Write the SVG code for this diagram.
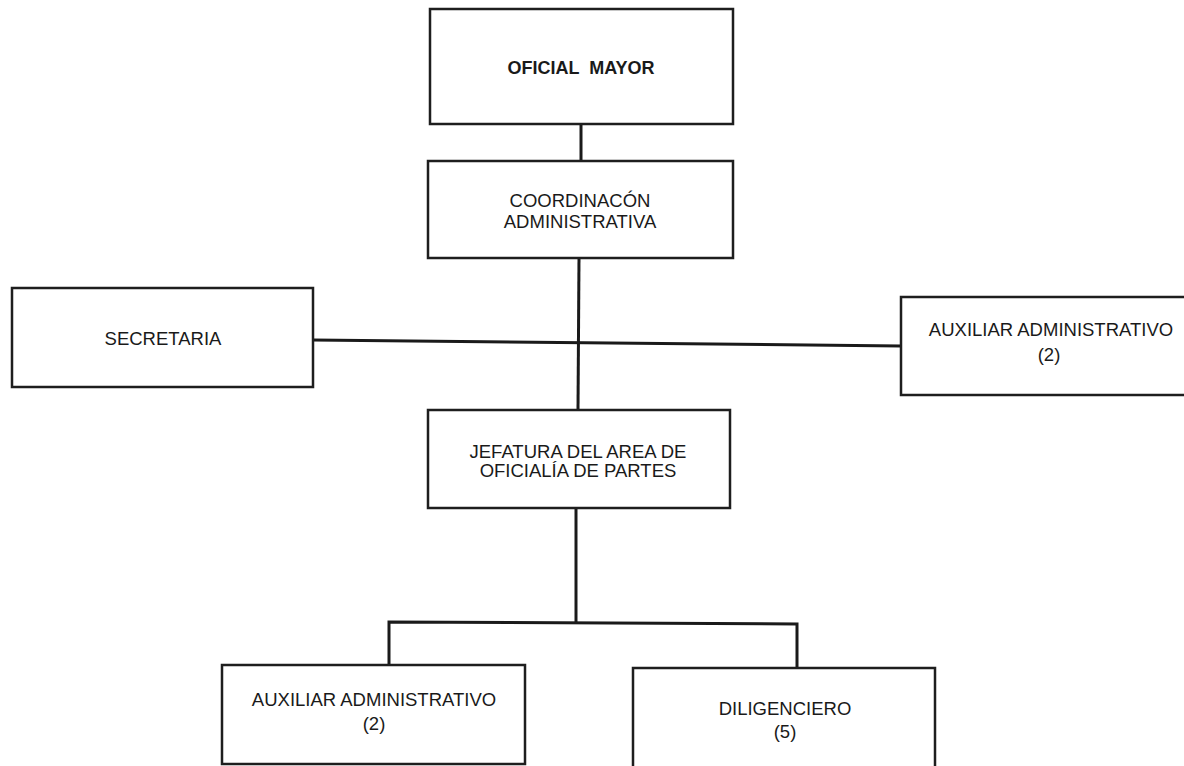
<svg xmlns="http://www.w3.org/2000/svg" width="1184" height="766" viewBox="0 0 1184 766">
<style>
.box{fill:#fff;stroke:#1e1e1e;stroke-width:2.5}
.t{font-family:"Liberation Sans",Arial,sans-serif;font-size:18.5px;fill:#1a1a1a;text-anchor:middle}
.b{font-weight:bold;white-space:pre;font-size:18px}
.c{fill:none;stroke:#1a1a1a;stroke-width:3}
</style>
<rect width="1184" height="766" fill="#fff"/>
<g id="connectors">
<line class="c" x1="581" y1="124" x2="581" y2="161"/>
<line class="c" x1="579" y1="258" x2="578" y2="409"/>
<line class="c" x1="313" y1="340" x2="901" y2="346"/>
<line class="c" x1="576" y1="508" x2="576" y2="623"/>
<polyline class="c" points="389,665 389,622 797,624 797,668"/>
</g>
<g id="oficial-mayor">
<rect class="box" x="430" y="9" width="303" height="115"/>
<text class="t b" x="581" y="74" xml:space="preserve">OFICIAL  MAYOR</text>
</g>
<g id="coordinacion">
<rect class="box" x="428" y="161" width="305" height="97"/>
<text class="t" x="580" y="207">COORDINACÓN</text>
<text class="t" x="580" y="228">ADMINISTRATIVA</text>
</g>
<g id="secretaria">
<rect class="box" x="12" y="288" width="301" height="99"/>
<text class="t" x="163" y="345">SECRETARIA</text>
</g>
<g id="auxiliar-1">
<rect class="box" x="901" y="297" width="290" height="98"/>
<text class="t" x="1051" y="336">AUXILIAR ADMINISTRATIVO</text>
<text class="t" x="1049" y="361">(2)</text>
</g>
<g id="jefatura">
<rect class="box" x="428" y="410" width="302" height="98"/>
<text class="t" x="578" y="458">JEFATURA DEL AREA DE</text>
<text class="t" x="578" y="477">OFICIALÍA DE PARTES</text>
</g>
<g id="auxiliar-2">
<rect class="box" x="222" y="665" width="303" height="99"/>
<text class="t" x="374" y="706">AUXILIAR ADMINISTRATIVO</text>
<text class="t" x="374" y="730">(2)</text>
</g>
<g id="diligenciero">
<rect class="box" x="633" y="668" width="302" height="100"/>
<text class="t" x="785" y="715">DILIGENCIERO</text>
<text class="t" x="785" y="738">(5)</text>
</g>
</svg>
